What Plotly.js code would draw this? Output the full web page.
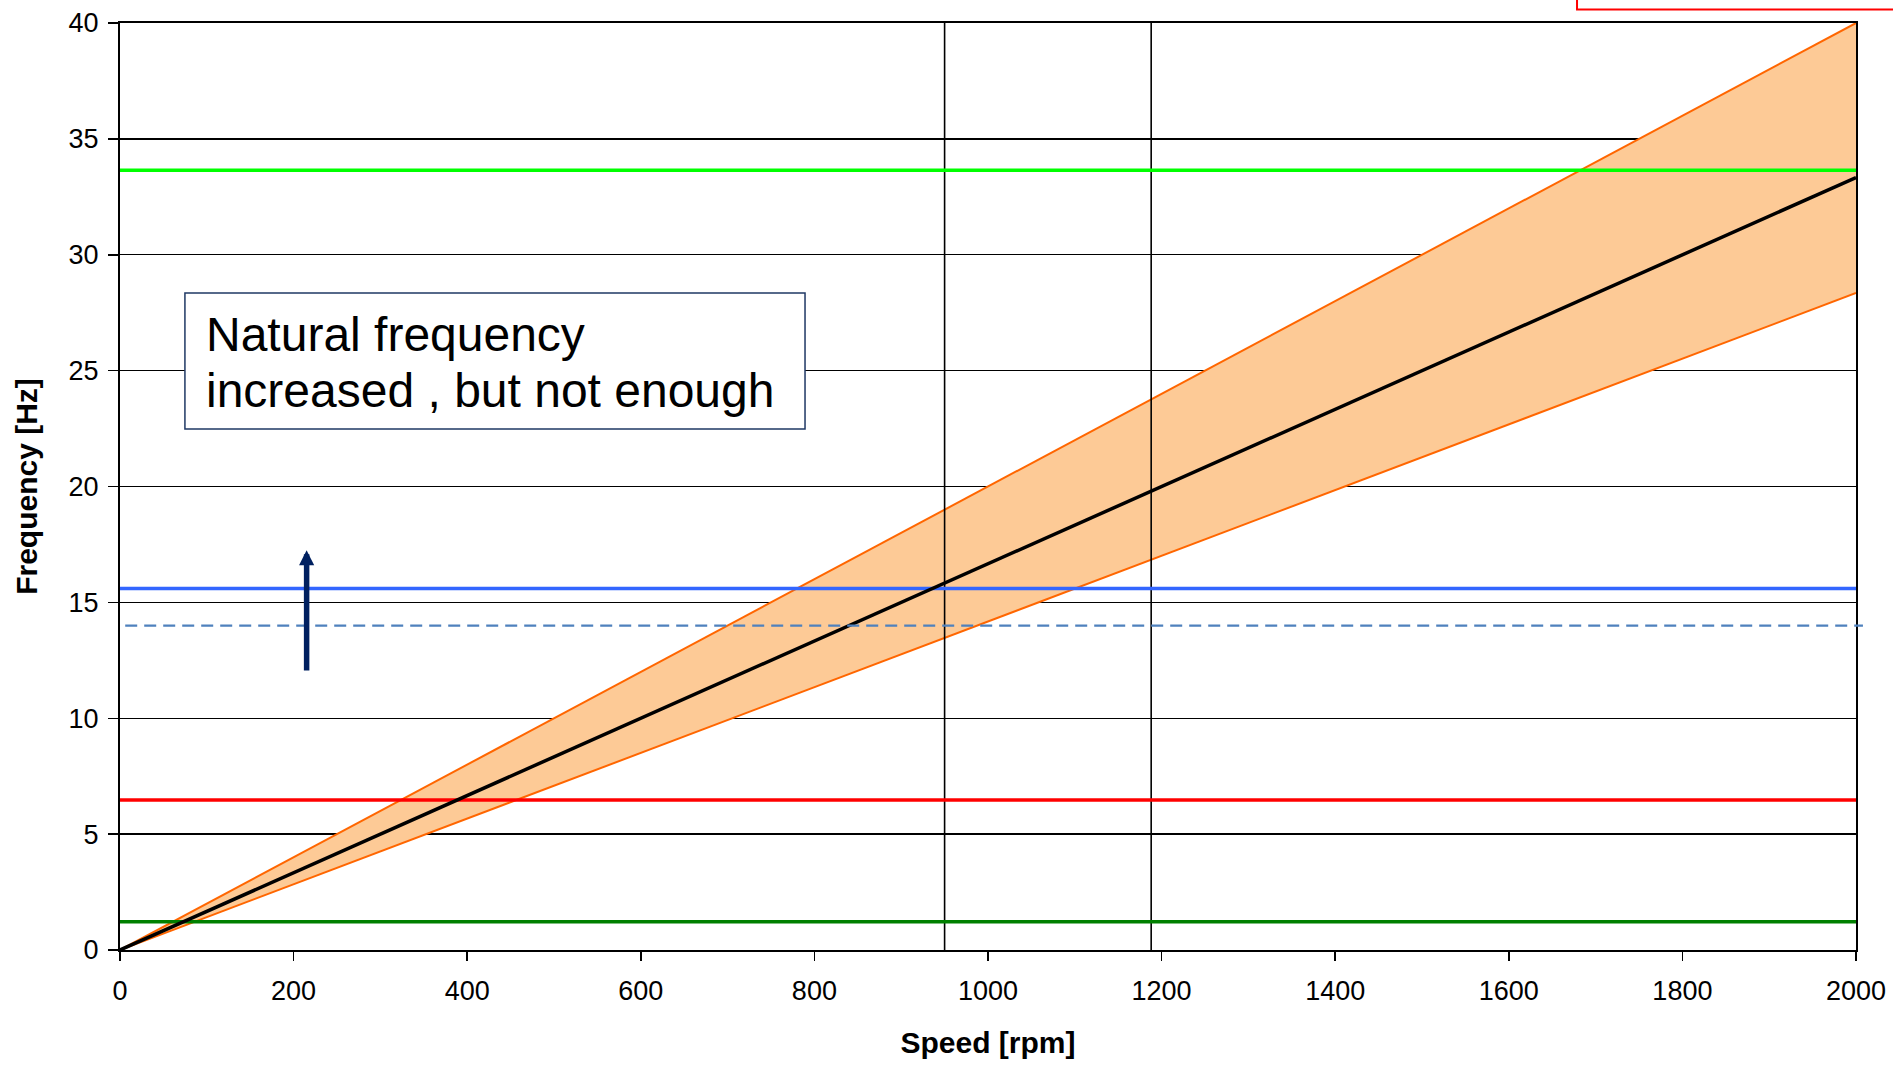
<!DOCTYPE html>
<html>
<head>
<meta charset="utf-8">
<script src="https://cdn.plot.ly/plotly-3.0.1.min.js"></script>
<style>
  html, body { margin: 0; padding: 0; background: #ffffff; }
  #chart { width: 1893px; height: 1067px; }
</style>
</head>
<body>
<div id="chart"></div>
<script>
// ---- data ----
const speedRange = [0, 2000];              // rpm
const nominalFreq = [0, 33.33];            // 1x running frequency [Hz]
const upperBand = [0, 40];                 // +20 % band
const lowerBand = [0, 28.35];              // -15 % band
const naturalFreqs = [33.65, 15.6, 6.47, 1.22];
const naturalColors = ['#00ff00', '#3366ff', '#ff0000', '#008000'];
const oldNaturalFreq = 14.0;
const operatingSpeeds = [950, 1188];
const arrowSpeed = 215;
const arrowFromTo = [12.0, 17.25];
const xTicks = [0, 200, 400, 600, 800, 1000, 1200, 1400, 1600, 1800, 2000];
const yTicks = [0, 5, 10, 15, 20, 25, 30, 35, 40];
const noteLines = ['Natural frequency', 'increased , but not enough'];

// ---- traces ----
const traces = [];
traces.push({
  x: speedRange, y: lowerBand, mode: 'lines',
  line: { color: '#ff6600', width: 2 }, hoverinfo: 'skip', showlegend: false
});
traces.push({
  x: speedRange, y: upperBand, mode: 'lines', fill: 'tonexty',
  fillcolor: '#fdca96',
  line: { color: '#ff6600', width: 2 }, hoverinfo: 'skip', showlegend: false
});
operatingSpeeds.forEach(s => {
  traces.push({
    x: [s, s], y: [yTicks[0], yTicks[yTicks.length - 1]], mode: 'lines',
    line: { color: '#000000', width: 1.6 }, hoverinfo: 'skip', showlegend: false
  });
});
naturalFreqs.forEach((f, i) => {
  traces.push({
    x: speedRange, y: [f, f], mode: 'lines',
    line: { color: naturalColors[i], width: 3.5 }, hoverinfo: 'skip', showlegend: false
  });
});
traces.push({
  x: speedRange, y: nominalFreq, mode: 'lines',
  line: { color: '#000000', width: 3.5 }, hoverinfo: 'skip', showlegend: false
});

// ---- layout ----
const FONT = 'Liberation Sans, Arial, sans-serif';
const layout = {
  width: 1893, height: 1067,
  margin: { l: 120, r: 37, t: 23, b: 117 },
  paper_bgcolor: '#ffffff', plot_bgcolor: '#ffffff',
  showlegend: false,
  font: { family: FONT, color: '#000000', size: 27 },
  xaxis: {
    range: [0, 2000], tickvals: xTicks, ticks: 'outside', ticklen: 9, tickwidth: 1.5,
    tickcolor: '#000000', showgrid: false, zeroline: false,
    showline: true, linecolor: '#000000', linewidth: 2, mirror: true,
    tickfont: { family: FONT, size: 27, color: '#000000' },
    ticklabelstandoff: 7,
    title: { text: 'Speed [rpm]', font: { family: FONT, size: 30, color: '#000000', weight: 'bold' }, standoff: 27 }
  },
  yaxis: {
    range: [0, 40], tickvals: yTicks, ticks: 'outside', ticklen: 10, tickwidth: 1.5,
    tickcolor: '#000000', showgrid: true, gridcolor: '#000000', gridwidth: 1.3,
    zeroline: false, showline: true, linecolor: '#000000', linewidth: 2, mirror: true,
    tickfont: { family: FONT, size: 27, color: '#000000' },
    ticklabelstandoff: 4,
    title: { text: 'Frequency [Hz]', font: { family: FONT, size: 30, color: '#000000', weight: 'bold' }, standoff: 22 }
  },
  shapes: [
    { type: 'line', xref: 'paper', yref: 'y', x0: 0.003, x1: 1.004,
      y0: oldNaturalFreq, y1: oldNaturalFreq,
      line: { color: '#4f81bd', width: 2.2, dash: '12px,7px' }, layer: 'above' },
    { type: 'rect', xref: 'paper', yref: 'paper', x0: 0.0374, x1: 0.3946, y0: 0.562, y1: 0.7087,
      line: { color: '#1f3864', width: 1.5 }, fillcolor: '#ffffff', layer: 'above' },
    { type: 'rect', xref: 'paper', yref: 'paper', x0: 0.8393, x1: 1.03, y0: 1.0145, y1: 1.08,
      line: { color: '#ff0000', width: 2 }, fillcolor: 'rgba(0,0,0,0)', layer: 'above' }
  ],
  annotations: [
    { xref: 'paper', yref: 'paper', x: 0.0485, y: 0.664, xanchor: 'left', yanchor: 'middle',
      text: noteLines[0], showarrow: false, align: 'left',
      font: { family: FONT, size: 48, color: '#000000' } },
    { xref: 'paper', yref: 'paper', x: 0.0485, y: 0.6035, xanchor: 'left', yanchor: 'middle',
      text: noteLines[1], showarrow: false, align: 'left',
      font: { family: FONT, size: 48, color: '#000000' } },
    { xref: 'x', yref: 'y', axref: 'x', ayref: 'y',
      x: arrowSpeed, y: arrowFromTo[1], ax: arrowSpeed, ay: arrowFromTo[0],
      text: '', showarrow: true, arrowhead: 2, arrowsize: 0.55, arrowwidth: 5.5,
      arrowcolor: '#002060', standoff: 0, startstandoff: 0 }
  ]
};

Plotly.newPlot('chart', traces, layout, { staticPlot: true, displayModeBar: false });
</script>
</body>
</html>
